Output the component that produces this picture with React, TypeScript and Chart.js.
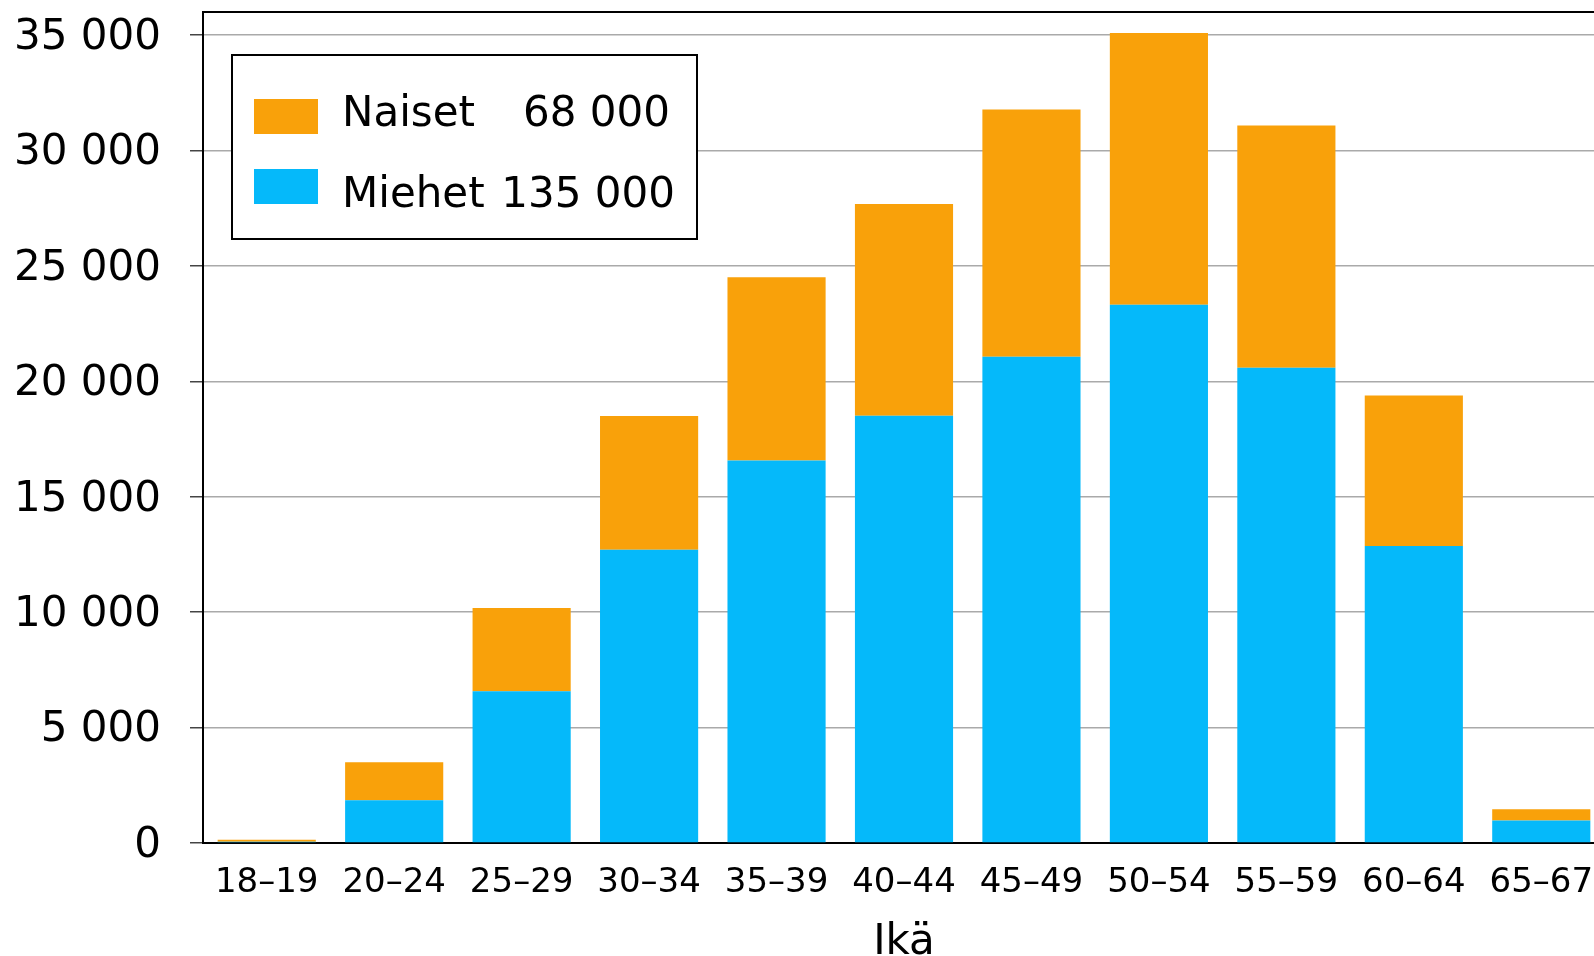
import React, { useEffect, useRef } from "react";
import { Chart, registerables } from "chart.js";

Chart.register(...registerables);

const categories = ["18–19", "20–24", "25–29", "30–34", "35–39", "40–44", "45–49", "50–54", "55–59", "60–64", "65–67"];
const miehet = [50, 1850, 6570, 12700, 16570, 18510, 21070, 23320, 20590, 12870, 970];
const naiset = [90, 1650, 3610, 5800, 7940, 9170, 10710, 11770, 10490, 6520, 490];
const yTicks = [0, 5000, 10000, 15000, 20000, 25000, 30000, 35000];
const seriesNames = ["Miehet", "Naiset"];
const seriesTotals = ["135 000", "68 000"];
const xTitle = "Ikä";

const BLUE = "rgb(5,185,250)";
const ORANGE = "rgb(249,161,10)";
const FONT = "'DejaVu Sans', Verdana, sans-serif";

const fmt = (v: number) => String(v).replace(/\B(?=(\d{3})+(?!\d))/g, " ");

const boxLegend = {
  id: "boxLegend",
  afterDraw(chart: any) {
    const { ctx, chartArea } = chart;
    const x0 = chartArea.left + 29;
    const y0 = chartArea.top + 43;
    const w = 465;
    const h = 184;
    ctx.save();
    ctx.fillStyle = "#fff";
    ctx.fillRect(x0, y0, w, h);
    ctx.strokeStyle = "#000";
    ctx.lineWidth = 2;
    ctx.strokeRect(x0, y0, w, h);
    const rows = [1, 0];
    const swatchY = [44, 114];
    const textY = [71, 152];
    const numRight = [438, 443];
    ctx.font = `42px ${FONT}`;
    ctx.textBaseline = "alphabetic";
    rows.forEach((di, r) => {
      const ds = chart.data.datasets[di];
      ctx.fillStyle = ds.backgroundColor;
      ctx.fillRect(x0 + 22, y0 + swatchY[r], 64, 35);
      ctx.fillStyle = "#000";
      ctx.textAlign = "left";
      ctx.fillText(ds.label, x0 + 110, y0 + textY[r]);
      ctx.textAlign = "right";
      ctx.fillText(seriesTotals[di], x0 + numRight[r], y0 + textY[r]);
    });
    ctx.restore();
  },
};

const frame = {
  id: "frame",
  afterDraw(chart: any) {
    const { ctx, chartArea } = chart;
    ctx.save();
    ctx.strokeStyle = "#000";
    ctx.lineWidth = 2;
    ctx.beginPath();
    ctx.moveTo(chartArea.left, chartArea.top);
    ctx.lineTo(chartArea.right + 20, chartArea.top);
    ctx.stroke();
    ctx.restore();
  },
};

export default function App() {
  const ref = useRef<HTMLCanvasElement | null>(null);
  useEffect(() => {
    if (!ref.current) return;
    const chart = new Chart(ref.current, {
      type: "bar",
      data: {
        labels: categories,
        datasets: [
          { label: seriesNames[0], data: miehet, backgroundColor: BLUE, borderWidth: 0 },
          { label: seriesNames[1], data: naiset, backgroundColor: ORANGE, borderWidth: 0 },
        ],
      },
      options: {
        animation: false,
        responsive: false,
        devicePixelRatio: 1,
        layout: { padding: { top: 12, right: 15, left: 0, bottom: 0 } },
        datasets: { bar: { categoryPercentage: 1, barPercentage: 0.77 } },
        plugins: { legend: { display: false }, tooltip: { enabled: false } },
        scales: {
          x: {
            stacked: true,
            grid: { display: false, drawTicks: false },
            border: { display: true, color: "#000", width: 2 },
            ticks: { color: "#000", font: { family: FONT, size: 34 }, padding: 20, maxRotation: 0, autoSkip: false },
            title: { display: true, text: xTitle, color: "#000", font: { family: FONT, size: 42, lineHeight: 0.61 }, padding: 0 },
            afterFit(scale: any) {
              scale.height = 113;
              scale.paddingLeft = 0;
              scale.paddingRight = 0;
            },
          },
          y: {
            stacked: true,
            min: 0,
            max: 36000,
            afterBuildTicks(scale: any) { scale.ticks = yTicks.map((v) => ({ value: v })); },
            grid: { color: "#aaa", lineWidth: 1.5, tickColor: "#444", tickLength: 13, drawTicks: true },
            border: { display: true, color: "#000", width: 2 },
            ticks: { color: "#000", font: { family: FONT, size: 42 }, padding: 29, labelOffset: 3, callback: (v: any) => fmt(Number(v)) },
            afterFit(scale: any) {
              scale.width = 203;
              scale.paddingTop = 0;
              scale.paddingBottom = 0;
            },
          },
        },
      },
      plugins: [frame, boxLegend],
    });
    return () => chart.destroy();
  }, []);
  return (
    <div style={{ position: "fixed", left: 0, top: 0, width: 1594, height: 956, overflow: "hidden", background: "#fff" }}>
      <canvas ref={ref} width={1620} height={956} style={{ display: "block" }} />
    </div>
  );
}
